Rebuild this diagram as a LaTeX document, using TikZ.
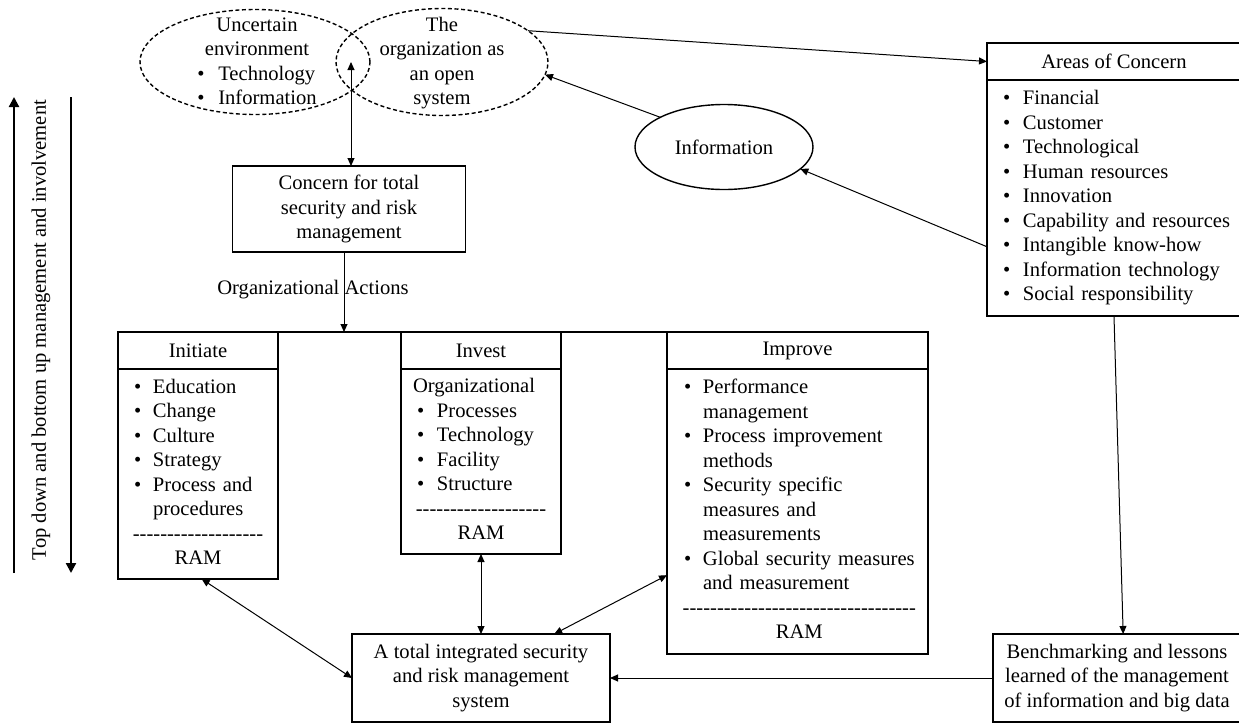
\documentclass[tikz,border=0pt]{standalone}
\usepackage{fontspec}
\setmainfont{Liberation Serif}
\usepackage{tikz}
\usepackage{array}
\usetikzlibrary{shapes, arrows.meta, positioning, calc}

\newcommand{\diafont}{\fontsize{10.3pt}{12.25pt}\selectfont}
\newcommand{\dashrow}[1]{\makebox[0pt]{\foreach \k in {1,...,#1}{-}}}

\tikzset{
  box/.style={draw, line width=0.8pt, outer sep=0pt, inner sep=0pt},
  headbox/.style={box, minimum height=18.5pt, align=center},
  bodybox/.style={box, align=left},
  ell/.style={ellipse, draw, line width=0.7pt, inner sep=0pt, outer sep=0pt},
  dashell/.style={ell, dash pattern=on 2pt off 1.3pt},
  link/.style={line width=0.5pt, -{Triangle[length=4pt, width=3.5pt]}},
  twolink/.style={line width=0.5pt, {Triangle[length=4pt, width=3.5pt]}-{Triangle[length=4pt, width=3.5pt]}},
  biglink/.style={line width=1.1pt, -{Triangle[length=5pt, width=5pt]}}
}

\begin{document}
\begin{tikzpicture}[x=0.5pt, y=-0.5pt, font=\diafont]
  \useasboundingbox (0,0) rectangle (1239,723);

  % environment and organization
  \node[dashell, minimum width=115pt, minimum height=52.5pt] (unc) at (255,62) {};
  \node[dashell, minimum width=106pt, minimum height=53.5pt] (org) at (442,62) {};
  \node (unctext) at (257,63) {\begin{tabular}{@{}p{10.5pt}@{}l@{}}
    \multicolumn{2}{@{}c@{}}{Uncertain}\\
    \multicolumn{2}{@{}c@{}}{environment}\\
    \textbullet & Technology\\
    \textbullet & Information
  \end{tabular}};
  \node[align=center] (orgtext) at (442,63) {The\\organization as\\an open\\system};
  \coordinate (meet) at (351,62);

  \node[ell, minimum width=89pt, minimum height=42.5pt] (info) at (724,147) {Information};

  % concern
  \node[box, minimum width=116.5pt, minimum height=43pt, align=center] (concern) at (349,209)
    {Concern for total\\security and risk\\management};
  \node (actlbl) at (313,290) {Organizational Actions};
  \coordinate (act) at (344,332);

  % areas of concern
  \node[headbox, minimum width=127pt, anchor=north west] (aoch) at (987,43) {Areas of Concern};
  \node[bodybox, text width=111pt, inner xsep=8pt, minimum height=118pt, below=0pt of aoch] (aocb) {%
    \begin{tabular}{@{}p{10pt}@{}l@{}}
      \textbullet & Financial\\
      \textbullet & Customer\\
      \textbullet & Technological\\
      \textbullet & Human resources\\
      \textbullet & Innovation\\
      \textbullet & Capability and resources\\
      \textbullet & Intangible know-how\\
      \textbullet & Information technology\\
      \textbullet & Social responsibility
    \end{tabular}};

  % initiate / invest / improve
  \node[headbox, minimum width=80pt, anchor=north west] (inih) at (118,332) {Initiate};
  \node[bodybox, text width=64pt, inner xsep=8pt, minimum height=105pt, below=0pt of inih] (inib) {%
    \begin{tabular}{@{}p{9.5pt}@{}p{54.5pt}@{}}
      \textbullet & Education\\
      \textbullet & Change\\
      \textbullet & Culture\\
      \textbullet & Strategy\\
      \textbullet & Process and\\
                  & procedures\\
      \multicolumn{2}{@{}c@{}}{\dashrow{19}}\\
      \multicolumn{2}{@{}c@{}}{RAM}
    \end{tabular}};

  \node[headbox, minimum width=80pt, anchor=north west] (invh) at (401,332) {Invest};
  \node[bodybox, text width=68pt, inner xsep=6pt, minimum height=92.5pt, below=0pt of invh] (invb) {%
    \begin{tabular}{@{}p{12pt}@{}p{56pt}@{}}
      \multicolumn{2}{@{}l@{}}{Organizational}\\
      \hspace*{2pt}\textbullet & Processes\\
      \hspace*{2pt}\textbullet & Technology\\
      \hspace*{2pt}\textbullet & Facility\\
      \hspace*{2pt}\textbullet & Structure\\
      \multicolumn{2}{@{}c@{}}{\dashrow{19}}\\
      \multicolumn{2}{@{}c@{}}{RAM}
    \end{tabular}};

  \node[headbox, minimum width=130.5pt, anchor=north west] (imph) at (667,332) {Improve};
  \node[bodybox, text width=113.5pt, inner xsep=8.5pt, minimum height=142.5pt, below=0pt of imph] (impb) {%
    \begin{tabular}{@{}p{9.5pt}@{}l@{}}
      \textbullet & Performance\\
                  & management\\
      \textbullet & Process improvement\\
                  & methods\\
      \textbullet & Security specific\\
                  & measures and\\
                  & measurements\\
      \textbullet & Global security measures\\
                  & and measurement\\
      \multicolumn{2}{@{}c@{}}{\dashrow{34}}\\
      \multicolumn{2}{@{}c@{}}{RAM}
    \end{tabular}};
  \draw[line width=0.8pt] (inih.north east) -- (imph.north west);

  % bottom row
  \node[box, minimum width=129pt, minimum height=44pt, align=center] (total) at (481,678)
    {A total integrated security\\and risk management\\system};
  \node[box, minimum width=124pt, minimum height=44pt, align=center] (bench) at (1117,678)
    {Benchmarking and lessons\\learned of the management\\of information and big data};

  % side arrows
  \coordinate (upbot) at (14,573);
  \coordinate (uptop) at (14,97);
  \coordinate (dntop) at (71,97);
  \coordinate (dnbot) at (71,573);
  \draw[biglink] (upbot) -- (uptop);
  \draw[biglink] (dntop) -- (dnbot);
  \node[rotate=90] (tdbu) at (41,330) {Top down and bottom up management and involvement};

  % connectors
  \draw[twolink] (meet) -- (meet |- concern.north);
  \draw[link] (act |- concern.south) -- (act);
  \draw[link] (org.20) -- (aoch.west);
  \draw[link] (info.155) -- (org.353);
  \draw[link] (aocb.201) -- (info.344);
  \draw[link] (aocb.south) -- (bench.82);
  \draw[link] (bench.west) -- (total.east);
  \draw[twolink] (inib.272) -- (total.west);
  \draw[twolink] (invb.south) -- (total.north);
  \draw[twolink] (total.31) -- (impb.206);
\end{tikzpicture}
\end{document}
